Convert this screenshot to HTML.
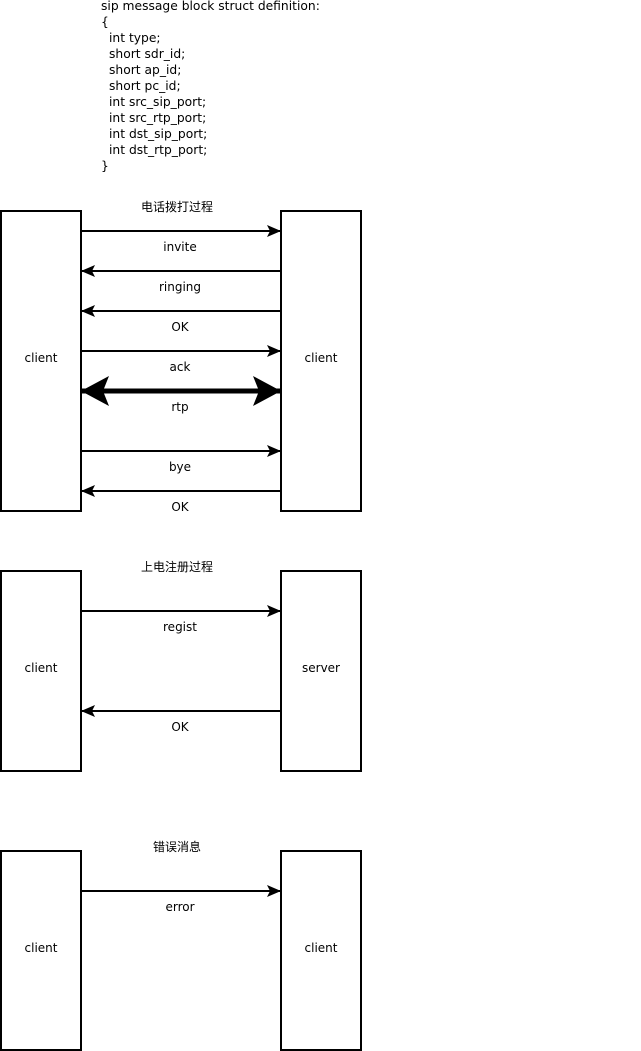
<!DOCTYPE html>
<html><head><meta charset="utf-8"><style>
html,body{margin:0;padding:0;background:#fff;}
svg{display:block}
text{font-family:"DejaVu Sans","Liberation Sans","Noto Sans CJK SC",sans-serif;font-size:12px;fill:#000}
.top text{font-size:12.3px}
</style></head><body>
<svg width="641" height="1051" viewBox="0 0 641 1051" xmlns="http://www.w3.org/2000/svg">
<defs>
<marker id="a" viewBox="0 0 14 12" refX="13" refY="6" markerWidth="14" markerHeight="12" markerUnits="userSpaceOnUse" orient="auto-start-reverse">
<path d="M0,0 L14,6 L0,12 L3,6 Z" fill="#000"/></marker>
<marker id="b" viewBox="0 0 28 30" refX="27" refY="15" markerWidth="28" markerHeight="30" markerUnits="userSpaceOnUse" orient="auto-start-reverse">
<path d="M0,0 L28,15 L0,30 L6,15 Z" fill="#000"/></marker>
</defs>
<g class="top">
<text x="101" y="10">sip message block struct definition:</text>
<text x="101" y="26">{</text>
<text x="109" y="42">int type;</text>
<text x="109" y="58">short sdr_id;</text>
<text x="109" y="74">short ap_id;</text>
<text x="109" y="90">short pc_id;</text>
<text x="109" y="106">int src_sip_port;</text>
<text x="109" y="122">int src_rtp_port;</text>
<text x="109" y="138">int dst_sip_port;</text>
<text x="109" y="154">int dst_rtp_port;</text>
<text x="101" y="170">}</text>
</g>
<g fill="#fff" stroke="#000" stroke-width="2">
<rect x="1" y="211" width="80" height="300"/>
<rect x="281" y="211" width="80" height="300"/>
<rect x="1" y="571" width="80" height="200"/>
<rect x="281" y="571" width="80" height="200"/>
<rect x="1" y="851" width="80" height="199"/>
<rect x="281" y="851" width="80" height="199"/>
</g>
<g stroke="#000" stroke-width="2">
<line x1="82" y1="231" x2="280" y2="231" marker-end="url(#a)"/>
<line x1="82" y1="271" x2="280" y2="271" marker-start="url(#a)"/>
<line x1="82" y1="311" x2="280" y2="311" marker-start="url(#a)"/>
<line x1="82" y1="351" x2="280" y2="351" marker-end="url(#a)"/>
<line x1="82" y1="391" x2="280" y2="391" stroke-width="5" marker-start="url(#b)" marker-end="url(#b)"/>
<line x1="82" y1="451" x2="280" y2="451" marker-end="url(#a)"/>
<line x1="82" y1="491" x2="280" y2="491" marker-start="url(#a)"/>
<line x1="82" y1="611" x2="280" y2="611" marker-end="url(#a)"/>
<line x1="82" y1="711" x2="280" y2="711" marker-start="url(#a)"/>
<line x1="82" y1="891" x2="280" y2="891" marker-end="url(#a)"/>
</g>
<g text-anchor="middle">
<text x="177" y="211">电话拨打过程</text>
<text x="180" y="251">invite</text>
<text x="180" y="291">ringing</text>
<text x="180" y="331">OK</text>
<text x="180" y="371">ack</text>
<text x="180" y="411">rtp</text>
<text x="180" y="471">bye</text>
<text x="180" y="511">OK</text>
<text x="41" y="362">client</text>
<text x="321" y="362">client</text>
<text x="177" y="571">上电注册过程</text>
<text x="180" y="631">regist</text>
<text x="180" y="731">OK</text>
<text x="41" y="672">client</text>
<text x="321" y="672">server</text>
<text x="177" y="851">错误消息</text>
<text x="180" y="911">error</text>
<text x="41" y="952">client</text>
<text x="321" y="952">client</text>
</g>
</svg>
</body></html>
